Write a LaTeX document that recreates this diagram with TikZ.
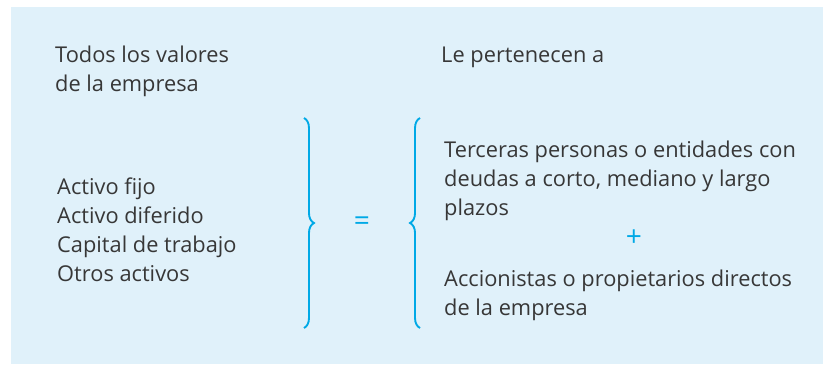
\documentclass[tikz,border=0pt]{standalone}
\usepackage{fontspec}
\setmainfont{Open Sans}
\usetikzlibrary{decorations.pathreplacing}
\definecolor{panel}{RGB}{224,241,250}
\definecolor{bracecol}{RGB}{0,169,230}
\definecolor{inkgray}{RGB}{55,55,55}

\begin{document}
\begin{tikzpicture}[x=0.03cm, y=-0.03cm,
  txt/.style={anchor=west, align=left, inner sep=0pt, text=inkgray, font=\fontsize{18.6}{24.7}\selectfont},
  curly/.style={draw=bracecol, line width=1.6pt, decorate, decoration={brace, amplitude=8.5pt}},
  sign/.style={inner sep=0pt, text=bracecol, font=\fontsize{24}{24}\selectfont}]
  \useasboundingbox (0,0) rectangle (823,364);
  \fill[panel] (11,7) rectangle (823,364);

  % headings
  \node[txt] (values) at (55,71.5) {Todos los valores\\de la empresa};
  \node[txt] (owners) at (441,57) {Le pertenecen a};

  % left side
  \node[txt] (assets) at (57,230) {Activo fijo\\Activo diferido\\Capital de trabajo\\Otros activos};

  % braces and signs
  \coordinate (lbtop) at (304,118);
  \coordinate (lbbot) at (304,328);
  \coordinate (rbtop) at (420,118);
  \coordinate (rbbot) at (420,328);
  \draw[curly] (lbtop) -- (lbbot);
  \draw[curly] (rbbot) -- (rbtop);
  \node[sign] (eqsign) at (362,224) {=};

  % right side
  \node[txt] (creditors) at (444,181) {Terceras personas o entidades con\\deudas a corto, mediano y largo\\plazos};
  \node[sign] (plussign) at (634,238) {+};
  \node[txt] (equity) at (444,295) {Accionistas o propietarios directos\\de la empresa};
\end{tikzpicture}
\end{document}
